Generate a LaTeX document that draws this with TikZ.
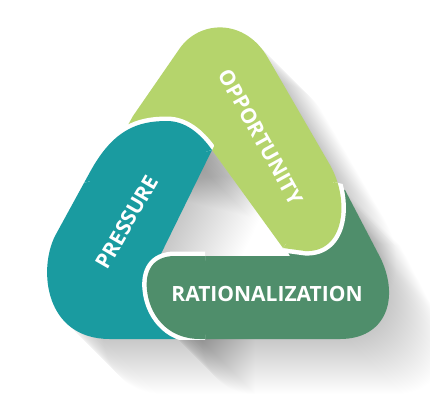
\documentclass[tikz,border=0pt]{standalone}
\usepackage{fontspec}
\setmainfont{Open Sans}
\definecolor{cteal}{RGB}{26,155,160}
\definecolor{clight}{RGB}{181,212,108}
\definecolor{cdark}{RGB}{79,142,107}
\tikzset{
  band/.style={preaction={draw=white, line width=9pt, line join=round}},
  lbl/.style={text=white, inner sep=0pt, font=\bfseries\fontsize{21}{21}\selectfont},
  shadowfill/.style={fill=black, opacity=0.0021}
}
\def\Ppath{(212,150) -- (157,262) -- (200,262) -- (200,339) -- (110,339) .. controls (45,339) and (38,270) .. (55,236) -- (90,172) .. controls (113,130) and (137,121) .. (167,121) .. controls (185,121) and (200,133) .. (212,150) -- cycle}
\def\Rpath{(290,256) -- (175,256) .. controls (152,256) and (145,272) .. (147,290) .. controls (149,312) and (165,339) .. (200,339) -- (340,339) .. controls (385,339) and (400,300) .. (381,259) -- (345,190) -- (320,188) -- (262,205) -- cycle}
\def\Opath{(212,150) -- (283,248) -- (305,251) .. controls (345,253) and (350,200) .. (330,165) -- (268,58) .. controls (245,18) and (200,20) .. (180,48) -- (133,116) -- (118,143) -- (195,162) -- cycle}
\begin{document}
\begin{tikzpicture}[x=1pt,y=-1pt]
\useasboundingbox (0,0) rectangle (430,400);
\fill[white] (0,0) rectangle (430,400);
% long shadows
\foreach \k in {1,...,55}{
  \fill[shadowfill, shift={(\k,\k)}] \Ppath;
  \fill[shadowfill, shift={(\k,\k)}] \Opath;
  \fill[shadowfill, shift={(\k,\k)}] \Rpath;
}
% rationalization band (tail under opportunity)
\fill[cdark] \Rpath;
% opportunity band, its head over rationalization
\fill[clight] \Opath;
\begin{scope}
  \clip (283,248) -- (276,264) -- (365,264) -- (365,189) -- (334,182) -- cycle;
  \fill[clight, band] \Opath;
\end{scope}
% pressure band, its head over opportunity
\fill[cteal] \Ppath;
\begin{scope}
  \clip (75,185) -- (75,85) -- (245,85) -- (212,150) -- cycle;
  \fill[cteal, band] \Ppath;
\end{scope}
% rationalization head over pressure
\begin{scope}
  \clip (100,230) rectangle (205,339.5);
  \fill[cdark, band] \Rpath;
\end{scope}
% labels
\node[lbl, rotate=60] (tp) at (127,222) {PRESSURE};
\node[lbl, rotate=-61] (to) at (261,137) {OPPORTUNITY};
\node[lbl] (tr) at (267,294) {RATIONALIZATION};
\end{tikzpicture}
\end{document}
